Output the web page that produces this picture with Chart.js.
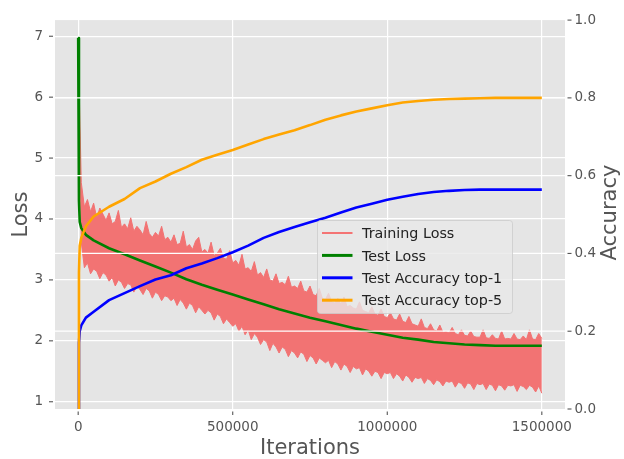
<!DOCTYPE html>
<html><head><meta charset="utf-8">
<script src="https://cdn.jsdelivr.net/npm/chart.js@4.4.0/dist/chart.umd.min.js"></script>
<style>html,body{margin:0;padding:0;background:#fff;}canvas{display:block;}</style>
</head><body>
<canvas id="c" width="624" height="459"></canvas>
<script>
// ---- data ----
const xTicks = [0, 500000, 1000000, 1500000];
const lossTicks = [1, 2, 3, 4, 5, 6, 7];
const accTicks = [0, 0.2, 0.4, 0.6, 0.8, 1.0];
const trainStep = 10000;
const trainUpper = [6.90,
4.60,4.20,4.32,4.12,4.26,4.02,4.18,4.08,3.98,
4.10,3.92,3.96,4.14,3.86,3.92,3.84,4.02,3.80,3.88,
3.82,3.74,3.96,3.76,3.70,3.78,3.72,3.88,3.66,3.70,
3.62,3.74,3.58,3.60,3.80,3.54,3.58,3.50,3.64,3.70,
3.46,3.50,3.44,3.62,3.40,3.44,3.52,3.36,3.34,3.48,
3.28,3.32,3.24,3.42,3.18,3.20,3.14,3.30,3.08,3.12,
3.04,3.18,3.00,2.98,3.10,2.94,2.96,2.92,3.06,2.88,
2.90,2.86,2.98,2.82,2.80,2.90,2.76,2.74,2.86,2.70,
2.68,2.78,2.64,2.62,2.70,2.60,2.72,2.56,2.58,2.54,
2.52,2.64,2.50,2.48,2.46,2.56,2.44,2.42,2.52,2.40,
2.38,2.46,2.36,2.34,2.44,2.32,2.30,2.40,2.28,2.26,
2.24,2.36,2.22,2.20,2.28,2.18,2.16,2.26,2.14,2.15,
2.13,2.22,2.12,2.10,2.18,2.09,2.08,2.16,2.07,2.06,
2.06,2.18,2.05,2.04,2.10,2.04,2.03,2.16,2.03,2.04,
2.03,2.12,2.03,2.02,2.08,2.02,2.18,2.03,2.02,2.12,
2.04];
const trainLower = [6.90,
3.62,3.20,3.28,3.10,3.18,3.14,3.02,3.12,3.08,
2.98,3.04,2.90,3.00,2.96,2.86,2.94,2.92,2.80,2.90,
2.84,2.76,2.86,2.82,2.70,2.80,2.76,2.66,2.74,2.72,
2.66,2.70,2.58,2.68,2.62,2.52,2.62,2.58,2.46,2.56,
2.50,2.44,2.50,2.46,2.34,2.44,2.40,2.28,2.36,2.30,
2.24,2.28,2.16,2.24,2.10,2.18,2.02,2.12,2.06,1.94,
2.02,1.98,1.84,1.96,1.90,1.80,1.90,1.86,1.74,1.84,
1.80,1.72,1.82,1.78,1.66,1.76,1.72,1.62,1.72,1.68,
1.64,1.68,1.56,1.66,1.62,1.52,1.62,1.58,1.48,1.58,
1.54,1.56,1.44,1.54,1.50,1.42,1.50,1.48,1.38,1.48,
1.46,1.48,1.38,1.46,1.42,1.34,1.44,1.40,1.32,1.40,
1.38,1.40,1.30,1.38,1.35,1.28,1.36,1.33,1.26,1.34,
1.32,1.34,1.24,1.32,1.30,1.22,1.31,1.29,1.20,1.30,
1.28,1.30,1.20,1.29,1.27,1.18,1.28,1.26,1.19,1.27,
1.26,1.28,1.17,1.27,1.25,1.20,1.27,1.24,1.16,1.26,
1.14];
const testIters = [0,2500,5000,10000,25000,50000,100000,150000,200000,250000,300000,350000,400000,450000,500000,550000,600000,650000,700000,750000,800000,850000,900000,950000,1000000,1050000,1100000,1150000,1200000,1250000,1300000,1350000,1400000,1450000,1500000];
const testLoss = [6.97,4.30,3.95,3.85,3.74,3.65,3.52,3.42,3.32,3.22,3.12,3.01,2.92,2.84,2.76,2.68,2.60,2.52,2.45,2.38,2.32,2.26,2.20,2.15,2.10,2.05,2.02,1.98,1.96,1.94,1.93,1.92,1.92,1.92,1.92];
const top1 = [0.0,0.17,0.20,0.215,0.235,0.25,0.28,0.298,0.316,0.333,0.344,0.362,0.374,0.388,0.403,0.42,0.44,0.455,0.468,0.48,0.492,0.505,0.518,0.528,0.538,0.546,0.553,0.558,0.561,0.563,0.564,0.564,0.564,0.564,0.564];
const top5 = [0.0,0.35,0.42,0.44,0.47,0.495,0.52,0.54,0.568,0.585,0.605,0.622,0.641,0.654,0.666,0.68,0.694,0.706,0.717,0.73,0.744,0.755,0.765,0.773,0.781,0.788,0.792,0.795,0.797,0.798,0.799,0.8,0.8,0.8,0.8];
const legendLabels = ['Training Loss', 'Test Loss', 'Test Accuracy top-1', 'Test Accuracy top-5'];
const xTitle = 'Iterations', yTitle = 'Loss', y1Title = 'Accuracy';

// ---- styles ----
const FONT = '"DejaVu Sans", sans-serif';
const TXT = '#555555';
const C_TRAIN = '#F27373', C_TRAIN_LEG = 'rgba(255,0,0,0.5)';
const C_TEST = '#008000', C_TOP1 = '#0000FF', C_TOP5 = '#FFA500';

const pts = (xs, ys) => ys.map((v, i) => ({x: xs[i], y: v}));
const trainXs = trainUpper.map((_, i) => i * trainStep);

function roundRect(ctx, x, y, w, h, r) {
  ctx.beginPath();
  ctx.moveTo(x + r, y);
  ctx.arcTo(x + w, y, x + w, y + h, r);
  ctx.arcTo(x + w, y + h, x, y + h, r);
  ctx.arcTo(x, y + h, x, y, r);
  ctx.arcTo(x, y, x + w, y, r);
  ctx.closePath();
}

const decor = {
  id: 'decor',
  beforeDraw(chart) {
    const {ctx, chartArea: a} = chart;
    ctx.save();
    ctx.fillStyle = '#E5E5E5';
    ctx.fillRect(a.left, a.top, a.right - a.left, a.bottom - a.top);
    ctx.restore();
  },
  afterDatasetDraw(chart, args) {
    if (args.index !== 2) return; // right-axis grid sits above the loss curves
    const {ctx, chartArea: a} = chart;
    const s = chart.scales.y1;
    ctx.save();
    ctx.strokeStyle = '#FFFFFF';
    ctx.lineWidth = 1.2;
    accTicks.forEach(v => {
      const py = s.getPixelForValue(v);
      if (py <= a.top + 1 || py >= a.bottom - 1) return;
      ctx.beginPath(); ctx.moveTo(a.left, py); ctx.lineTo(a.right, py); ctx.stroke();
    });
    ctx.restore();
  },
  afterDraw(chart) {
    const {ctx, chartArea: a, scales} = chart;
    ctx.save();
    // tick marks
    ctx.strokeStyle = TXT; ctx.lineWidth = 1.1;
    lossTicks.forEach(v => { const p = scales.y.getPixelForValue(v); ctx.beginPath(); ctx.moveTo(a.left - 6, p); ctx.lineTo(a.left - 2, p); ctx.stroke(); });
    accTicks.forEach(v => { const p = scales.y1.getPixelForValue(v); ctx.beginPath(); ctx.moveTo(a.right + 2.5, p); ctx.lineTo(a.right + 6.5, p); ctx.stroke(); });
    xTicks.forEach(v => { const p = scales.x.getPixelForValue(v); ctx.beginPath(); ctx.moveTo(p, a.bottom + 2.5); ctx.lineTo(p, a.bottom + 6); ctx.stroke(); });
    // axis titles
    ctx.fillStyle = TXT;
    ctx.font = '21px ' + FONT;
    ctx.textAlign = 'center'; ctx.textBaseline = 'alphabetic';
    ctx.fillText(xTitle, (a.left + a.right) / 2, 453.5);
    const midY = (a.top + a.bottom) / 2;
    ctx.save(); ctx.translate(26.7, midY); ctx.rotate(-Math.PI / 2); ctx.fillText(yTitle, 0, 0); ctx.restore();
    ctx.save(); ctx.translate(616, midY - 2); ctx.rotate(-Math.PI / 2); ctx.fillText(y1Title, 0, 0); ctx.restore();
    // legend
    roundRect(ctx, 317.5, 220.5, 195, 93, 3);
    ctx.fillStyle = 'rgba(232,232,232,0.8)'; ctx.fill();
    ctx.strokeStyle = 'rgba(204,204,204,0.8)'; ctx.lineWidth = 1; ctx.stroke();
    const handles = [[C_TRAIN_LEG, 2], [C_TEST, 3], [C_TOP1, 3], [C_TOP5, 3]];
    ctx.font = '14.3px ' + FONT; ctx.textAlign = 'left';
    legendLabels.forEach((lab, i) => {
      const y = 233 + i * 22.4;
      ctx.strokeStyle = handles[i][0]; ctx.lineWidth = handles[i][1];
      ctx.beginPath(); ctx.moveTo(322, y); ctx.lineTo(352.5, y); ctx.stroke();
      ctx.fillStyle = '#222222';
      ctx.fillText(lab, 362, y + 5.2);
    });
    ctx.restore();
  }
};

const tickFont = {family: FONT, size: 13.5};

new Chart(document.getElementById('c'), {
  type: 'line',
  data: {
    datasets: [
      {label: legendLabels[0], data: pts(trainXs, trainUpper), yAxisID: 'y', borderColor: C_TRAIN, backgroundColor: C_TRAIN, borderWidth: 1, pointRadius: 0, fill: '+1', order: 5},
      {label: legendLabels[0] + ' (low)', data: pts(trainXs, trainLower), yAxisID: 'y', borderColor: C_TRAIN, borderWidth: 1, pointRadius: 0, fill: false, order: 6},
      {label: legendLabels[1], data: pts(testIters, testLoss), yAxisID: 'y', borderColor: C_TEST, borderWidth: 2.6, pointRadius: 0, fill: false, order: 4},
      {label: legendLabels[2], data: pts(testIters, top1), yAxisID: 'y1', borderColor: C_TOP1, borderWidth: 2.6, pointRadius: 0, fill: false, order: 2},
      {label: legendLabels[3], data: pts(testIters, top5), yAxisID: 'y1', borderColor: C_TOP5, borderWidth: 2.6, pointRadius: 0, fill: false, order: 1}
    ]
  },
  options: {
    responsive: false, animation: false, devicePixelRatio: 1,
    layout: {padding: {top: 17, left: 0, right: 0, bottom: 0}},
    plugins: {legend: {display: false}, tooltip: {enabled: false}},
    elements: {line: {tension: 0, borderJoinStyle: 'round', borderCapStyle: 'butt'}},
    scales: {
      x: {
        type: 'linear', position: 'bottom', min: -75000, max: 1575000,
        afterBuildTicks: s => { s.ticks = xTicks.map(v => ({value: v})); },
        afterFit: s => { s.height = 50; },
        ticks: {font: tickFont, color: TXT, padding: 10, autoSkip: false, maxRotation: 0, minRotation: 0, callback: v => String(v)},
        grid: {color: '#FFFFFF', lineWidth: 1.2, drawTicks: false},
        border: {display: false}
      },
      y: {
        type: 'linear', position: 'left', min: 0.881, max: 7.265,
        afterBuildTicks: s => { s.ticks = lossTicks.map(v => ({value: v})); },
        afterFit: s => { s.width = 55; },
        ticks: {font: tickFont, color: TXT, padding: 12, callback: v => String(v)},
        grid: {color: '#FFFFFF', lineWidth: 1.2, drawTicks: false},
        border: {display: false}
      },
      y1: {
        type: 'linear', position: 'right', min: 0, max: 1,
        afterBuildTicks: s => { s.ticks = accTicks.map(v => ({value: v})); },
        afterFit: s => { s.width = 59; },
        ticks: {font: tickFont, color: TXT, padding: 9.5, callback: v => Number(v).toFixed(1)},
        grid: {display: false, drawTicks: false},
        border: {display: false}
      }
    }
  },
  plugins: [decor]
});
</script>
</body></html>
